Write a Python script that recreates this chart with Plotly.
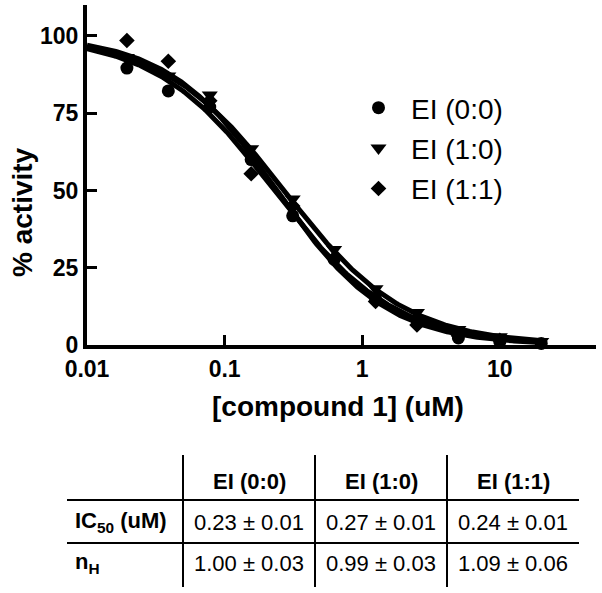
import numpy as np
import plotly.graph_objects as go

# ---------------- data ----------------
conc = [0.0195, 0.039, 0.078, 0.156, 0.3125, 0.625, 1.25, 2.5, 5, 10, 20]
series_names = ["EI (0:0)", "EI (1:0)", "EI (1:1)"]
act_00 = [89.6, 82.2, 77.0, 60.0, 41.8, 27.7, 15.0, 8.0, 2.3, 1.0, 0.5]
act_10 = [93.0, 87.0, 80.9, 63.5, 47.2, 30.9, 18.2, 10.5, 5.0, 2.7, 1.1]
act_11 = [98.5, 91.8, 79.0, 55.4, 45.0, 28.0, 14.1, 6.5, 3.0, 1.5, -0.5]
ic50 = [0.23, 0.27, 0.24]
ic50_err = [0.01, 0.01, 0.01]
n_h = [1.00, 0.99, 1.09]
n_h_err = [0.03, 0.03, 0.06]
fit_top = 100.0
fit_bottom = 0.0
fit_x_min = 0.01
fit_x_max = 20
x_ticks = [0.01, 0.1, 1, 10]
x_tick_labels = ["0.01", "0.1", "1", "10"]
y_ticks = [0, 25, 50, 75, 100]
y_tick_labels = ["0", "25", "50", "75", "100"]
table_cols = ["EI (0:0)", "EI (1:0)", "EI (1:1)"]
table_rows = ["IC<sub>50</sub> (uM)", "n<sub>H</sub>"]

# ---------------- layout constants ----------------
W, H = 602, 593
L, R, T, B = 87, 6, 5, 248
PW = W - L - R
PH = H - T - B
FONT = "Liberation Sans, Arial, Helvetica, sans-serif"


def px2x(px):
    return (px - L) / PW


def py2y(py):
    return (H - B - py) / PH


symbols = ["circle", "triangle-down", "diamond"]
sizes = [13, 14, 12]
acts = [act_00, act_10, act_11]

fig = go.Figure()

# fitted curves (Hill equation with the table's IC50 and nH)
xf = np.logspace(np.log10(fit_x_min), np.log10(fit_x_max), 300)
for i in range(3):
    yf = fit_bottom + (fit_top - fit_bottom) / (1 + (xf / ic50[i]) ** n_h[i])
    fig.add_trace(go.Scatter(x=xf, y=yf, mode="lines",
                             line=dict(color="black", width=5),
                             showlegend=False, hoverinfo="skip"))

for i in range(3):
    fig.add_trace(go.Scatter(x=conc, y=acts[i], mode="markers", name=series_names[i],
                             legendgroup=series_names[i],
                             marker=dict(symbol=symbols[i], size=sizes[i], color="black",
                                         line=dict(width=0)),
                             cliponaxis=False))

fig.update_xaxes(type="log", range=[-2, np.log10(50)],
                 tickvals=x_ticks, ticktext=x_tick_labels,
                 ticks="inside", ticklen=10, tickwidth=3, tickcolor="black",
                 showline=True, linewidth=4, linecolor="black",
                 showgrid=False, zeroline=False,
                 tickfont=dict(family=FONT, size=23, color="black", weight="bold"))
fig.update_yaxes(range=[0, 110],
                 tickvals=y_ticks, ticktext=y_tick_labels,
                 ticks="inside", ticklen=10, tickwidth=3, tickcolor="black",
                 showline=True, linewidth=4, linecolor="black",
                 showgrid=False, zeroline=False,
                 tickfont=dict(family=FONT, size=23, color="black", weight="bold"))

annotations = []
# axis titles
annotations.append(dict(text="% activity", xref="paper", yref="paper",
                        x=px2x(22), y=py2y(212), xanchor="center", yanchor="middle",
                        textangle=-90, showarrow=False,
                        font=dict(family=FONT, size=28, color="black", weight="bold")))
annotations.append(dict(text="[compound 1] (uM)", xref="paper", yref="paper",
                        x=px2x(338), y=py2y(406), xanchor="center", yanchor="middle",
                        showarrow=False,
                        font=dict(family=FONT, size=28, color="black", weight="bold")))

# table
col_edges = [183, 315, 447, 579]
row_centers = [482, 522, 563]
shapes = []
for cx in col_edges[:3]:
    shapes.append(dict(type="line", xref="paper", yref="paper",
                       x0=px2x(cx), x1=px2x(cx), y0=py2y(455), y1=py2y(587),
                       line=dict(color="black", width=2)))
for hy in [500, 543]:
    shapes.append(dict(type="line", xref="paper", yref="paper",
                       x0=px2x(67), x1=px2x(579), y0=py2y(hy), y1=py2y(hy),
                       line=dict(color="black", width=2)))

for j, name in enumerate(table_cols):
    cx = (col_edges[j] + col_edges[j + 1]) / 2
    annotations.append(dict(text=name, xref="paper", yref="paper",
                            x=px2x(cx), y=py2y(row_centers[0]),
                            xanchor="center", yanchor="middle", showarrow=False,
                            font=dict(family=FONT, size=22, color="black", weight="bold")))
    vals = [f"{ic50[j]:.2f} ± {ic50_err[j]:.2f}", f"{n_h[j]:.2f} ± {n_h_err[j]:.2f}"]
    for r in range(2):
        annotations.append(dict(text=vals[r], xref="paper", yref="paper",
                                x=px2x(cx), y=py2y(row_centers[r + 1]),
                                xanchor="center", yanchor="middle", showarrow=False,
                                font=dict(family=FONT, size=22, color="black")))
for r in range(2):
    annotations.append(dict(text=table_rows[r], xref="paper", yref="paper",
                            x=px2x(73), y=py2y(row_centers[r + 1]),
                            xanchor="left", yanchor="middle", showarrow=False,
                            font=dict(family=FONT, size=22, color="black", weight="bold")))

fig.update_layout(width=W, height=H,
                  margin=dict(l=L, r=R, t=T, b=B, pad=0),
                  paper_bgcolor="white", plot_bgcolor="white",
                  font=dict(family=FONT, color="black"),
                  showlegend=True,
                  legend=dict(x=px2x(346), y=py2y(83), xanchor="left", yanchor="top",
                              font=dict(family=FONT, size=28, color="black"),
                              bgcolor="rgba(0,0,0,0)", tracegroupgap=1,
                              itemsizing="trace", itemwidth=55),
                  annotations=annotations, shapes=shapes)

fig.write_html("out.html", config={"displayModeBar": False},
               post_script="document.body.style.margin='0';document.body.style.overflow='hidden';")
